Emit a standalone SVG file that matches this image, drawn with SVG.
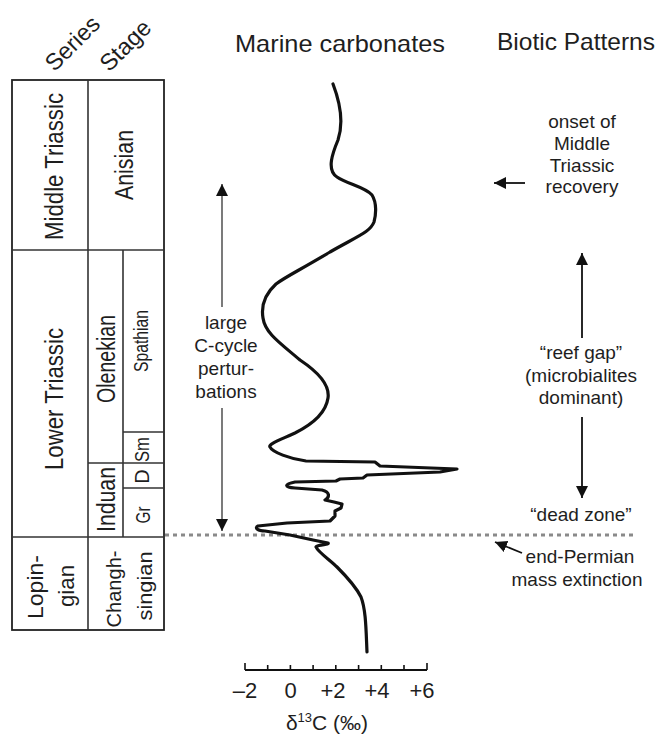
<svg xmlns="http://www.w3.org/2000/svg" width="657" height="738" viewBox="0 0 657 738">
<style>
text{font-family:"Liberation Sans",Arial,Helvetica,sans-serif;fill:#1e1e1e}
.hd{font-size:24px}
.col{font-size:26px}
.sm{font-size:20px}
.lab{font-size:19px;text-anchor:middle}
.ax{font-size:22px;text-anchor:middle}
.box{fill:none;stroke:#222;stroke-width:1.8}
.thin{stroke:#333;stroke-width:1.6;fill:none}
.arr{stroke:#333;stroke-width:1.3;fill:none}
.arrk{stroke:#111;stroke-width:1.8;fill:none}
</style>
<defs>
<marker id="ah" markerUnits="userSpaceOnUse" markerWidth="14" markerHeight="14" refX="12" refY="6" orient="auto">
<path d="M0,0 L12,6 L0,12 z" fill="#111"/>
</marker>
</defs>

<g id="headers">
<text class="hd" x="340" y="52" text-anchor="middle" textLength="210" lengthAdjust="spacingAndGlyphs">Marine carbonates</text>
<text class="hd" x="576" y="50" text-anchor="middle" textLength="158" lengthAdjust="spacingAndGlyphs">Biotic Patterns</text>
<text font-size="23.5" transform="translate(78,49) rotate(-45)" text-anchor="middle">Series</text>
<text font-size="23.5" transform="translate(131,51) rotate(-45)" text-anchor="middle">Stage</text>
</g>

<g id="column">
<rect class="box" x="12" y="80" width="152" height="550"/>
<line class="thin" x1="88" y1="80" x2="88" y2="630"/>
<line class="thin" x1="12" y1="250" x2="164" y2="250"/>
<line class="thin" x1="12" y1="537" x2="164" y2="537"/>
<line class="thin" x1="123" y1="250" x2="123" y2="537"/>
<line class="thin" x1="88" y1="463" x2="164" y2="463"/>
<line class="thin" x1="123" y1="432" x2="164" y2="432"/>
<line class="thin" x1="123" y1="488" x2="164" y2="488"/>
</g>

<g id="column-labels">
<text class="col" transform="translate(63,166.5) rotate(-90)" text-anchor="middle" textLength="147" lengthAdjust="spacingAndGlyphs">Middle Triassic</text>
<text class="col" transform="translate(133,165) rotate(-90)" text-anchor="middle" textLength="70" lengthAdjust="spacingAndGlyphs">Anisian</text>
<text class="col" transform="translate(63,399) rotate(-90)" text-anchor="middle" textLength="142" lengthAdjust="spacingAndGlyphs">Lower Triassic</text>
<text class="col" transform="translate(115,359) rotate(-90)" text-anchor="middle" textLength="88" lengthAdjust="spacingAndGlyphs">Olenekian</text>
<text class="col" transform="translate(115,499.5) rotate(-90)" text-anchor="middle" textLength="65" lengthAdjust="spacingAndGlyphs">Induan</text>
<text class="sm" transform="translate(148,341) rotate(-90)" text-anchor="middle" textLength="62" lengthAdjust="spacingAndGlyphs">Spathian</text>
<text class="sm" transform="translate(149,449.5) rotate(-90)" text-anchor="middle" textLength="25" lengthAdjust="spacingAndGlyphs">Sm</text>
<text class="sm" transform="translate(149,476.5) rotate(-90)" text-anchor="middle">D</text>
<text class="sm" transform="translate(150,515) rotate(-90)" text-anchor="middle" textLength="17" lengthAdjust="spacingAndGlyphs">Gr</text>
<text font-size="22" transform="translate(43,587) rotate(-90)" text-anchor="middle" textLength="64" lengthAdjust="spacingAndGlyphs">Lopin-</text>
<text font-size="22" transform="translate(74,586) rotate(-90)" text-anchor="middle" textLength="42" lengthAdjust="spacingAndGlyphs">gian</text>
<text font-size="21" transform="translate(120.5,589) rotate(-90)" text-anchor="middle" textLength="77" lengthAdjust="spacingAndGlyphs">Changh-</text>
<text font-size="21" transform="translate(152,586) rotate(-90)" text-anchor="middle" textLength="69" lengthAdjust="spacingAndGlyphs">singian</text>
</g>

<g id="boundary">
<line x1="165" y1="535" x2="636" y2="535" stroke="#8a8a8a" stroke-width="3" stroke-dasharray="4 4"/>
</g>

<g id="curve">
<path fill="none" stroke="#111" stroke-width="3.2" stroke-linejoin="round" stroke-linecap="round" d="M333,84 C341,105 343,125 338,140 C333,152 326,170 337,177 C347,184 365,187 372,195 C377,203 376,215 374,222 C370,232 360,235 330,252 C300,270 285,277 276,284 C265,294 261,306 263,318 C265,333 280,343 300,360 C318,372 330,385 328,398 C326,412 315,423 295,433 C280,440 268,444 270,447 C272,452 290,459 306,461 L375,462 L380,466 L457,469 L440,472 L367,475 L363,478 L340,479 L336,481 L295,482 C285,484 283,487 295,488 L322,490 C330,492 330,497 325,500 L334,502 L342,504 L341,508 L335,511 L335,516 L330,521 L287,523 L258,526 C254,528 258,531 265,531 L290,535 L313,540 L328,543 C330,545 318,544 316,547 C318,552 330,560 337,567 C345,575 355,585 361,597 C366,610 366,630 367,652"/>
</g>

<g id="axis">
<line x1="245" y1="670" x2="427" y2="670" stroke="#111" stroke-width="1.8"/>
<path stroke="#111" stroke-width="1.6" d="M245,670V663M267.7,670V665M290.4,670V665M313.1,670V665M335.8,670V665M358.6,670V665M381.3,670V665M404,670V665M427,670V663"/>
<text class="ax" x="245" y="698">–2</text>
<text class="ax" x="290.5" y="698">0</text>
<text class="ax" x="333" y="698">+2</text>
<text class="ax" x="377" y="698">+4</text>
<text class="ax" x="422" y="698">+6</text>
<text x="327" y="730" font-size="21" text-anchor="middle">δ<tspan font-size="13" dy="-8">13</tspan><tspan dy="8">C (‰)</tspan></text>
</g>

<g id="left-annotation">
<text class="lab" x="226" y="329" font-size="19.5">large</text>
<text class="lab" x="226" y="352" font-size="19.5">C-cycle</text>
<text class="lab" x="226" y="375" font-size="19.5">pertur-</text>
<text class="lab" x="226" y="398" font-size="19.5">bations</text>
</g>

<g id="right-annotations">
<text class="lab" x="582" y="128">onset of</text>
<text class="lab" x="582" y="150">Middle</text>
<text class="lab" x="582" y="172">Triassic</text>
<text class="lab" x="582" y="193">recovery</text>
<text class="lab" x="581" y="359">“reef gap”</text>
<text class="lab" x="581" y="382">(microbialites</text>
<text class="lab" x="581" y="404">dominant)</text>
<text class="lab" x="581" y="521">“dead zone”</text>
<text class="lab" x="580" y="563">end-Permian</text>
<text class="lab" x="577" y="586">mass extinction</text>
</g>

<g id="connectors">
<line class="arr" x1="222" y1="307" x2="222" y2="184" marker-end="url(#ah)"/>
<line class="arr" x1="222" y1="408" x2="222" y2="531" marker-end="url(#ah)"/>
<line class="arrk" x1="582" y1="338" x2="582" y2="253" marker-end="url(#ah)"/>
<line class="arrk" x1="582" y1="417" x2="582" y2="498" marker-end="url(#ah)"/>
<line class="arrk" x1="525" y1="183" x2="494" y2="183" marker-end="url(#ah)"/>
<line class="arrk" x1="522" y1="553" x2="495" y2="542" marker-end="url(#ah)"/>
</g>
</svg>
